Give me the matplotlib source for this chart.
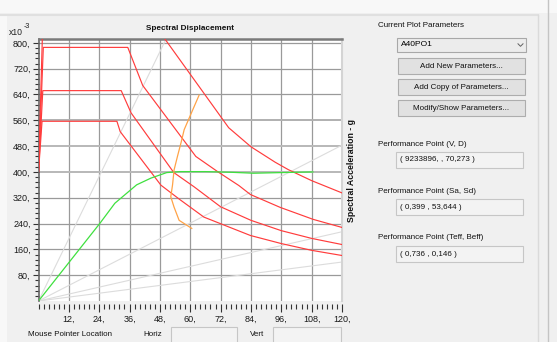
import numpy as np
import matplotlib
matplotlib.use("Agg")
import matplotlib.pyplot as plt
from matplotlib.patches import Rectangle

plt.rcParams['font.family'] = ['Liberation Sans', 'DejaVu Sans']

# ---------------- data ----------------
x_ticks = [12, 24, 36, 48, 60, 72, 84, 96, 108, 120]
y_ticks = [80, 160, 240, 320, 400, 480, 560, 640, 720, 800]

spec1_sd = [0, 1.9, 35.3, 41.2, 62.2, 71.0, 79.2, 83.8, 95.6, 108.6, 120.0]
spec1_sa = [400, 786, 786, 668, 448, 400, 358, 330, 290, 253, 228]
spec2_sd = [0, 1.7, 32.7, 36.6, 53.5, 61.5, 72.0, 84.0, 96.0, 108.0, 120.0]
spec2_sa = [400, 652, 652, 583, 398, 354, 292, 250, 218, 194, 175]
spec3_sd = [0, 1.4, 31.0, 32.3, 48.4, 55.6, 65.4, 83.8, 96.0, 108.0, 120.0]
spec3_sa = [400, 557, 557, 525, 359, 316, 260, 203, 178, 157, 141]
spec4_sd = [0, 2.2, 42.0, 46.5, 75.2, 84.0, 93.6, 98.8, 108.0, 120.0]
spec4_sa = [400, 1000, 1000, 850, 537, 478, 430, 407, 373, 335]

capacity_sd = [0, 24.3, 30.2, 38.8, 44.5, 50.7, 56.0, 66.0, 76.0, 85.0, 96.0, 108.5]
capacity_sa = [0, 241, 303, 360, 381, 398, 401, 401, 399, 396, 398, 400]

locus_sd = [60.6, 55.6, 53.6, 52.3, 53.0, 53.6, 55.0, 56.3, 57.6, 59.3, 63.5]
locus_sa = [225, 250, 291, 323, 360, 406, 450, 489, 531, 562, 638]

period_lines_T = [0.5, 1.0, 1.5, 2.0]   # constant-period radial lines (s)
G_MM = 9810.0                          # mm/s^2

combo_value = "A40PO1"
buttons = ["Add New Parameters...", "Add Copy of Parameters...", "Modify/Show Parameters..."]
pp_labels = ["Performance Point (V, D)", "Performance Point (Sa, Sd)", "Performance Point (Teff, Beff)"]
pp_values = ["( 9233896, , 70,273 )", "( 0,399 , 53,644 )", "( 0,736 , 0,146 )"]

# ---------------- figure ----------------
W, H = 557, 342
fig = plt.figure(figsize=(W / 100, H / 100), dpi=100)
fig.patch.set_facecolor('#f0f0f0')

bg = fig.add_axes([0, 0, 1, 1], zorder=0)
bg.set_xlim(0, W)
bg.set_ylim(H, 0)
bg.axis('off')

# window decorations
bg.add_patch(Rectangle((0, 0), W, 13, fc='#f8f8f8', ec='none'))
bg.plot([0, 538], [15, 15], color='#e0e0e0', lw=1.5)
bg.add_patch(Rectangle((0, 15), 7, H, fc='#f8f8f8', ec='none'))
bg.plot([538, 538], [15, H], color='#dadada', lw=1.0)
bg.plot([548, 548], [0, H], color='#c4c4c4', lw=1.0)

fs = 5.8
bg.text(9, 32.5, "x10", fontsize=6.2, va='center', ha='left', color='#222')
bg.text(23.5, 26.5, "-3", fontsize=5.2, va='center', ha='left', color='#222')
bg.text(190, 29, "Spectral Displacement", fontsize=5.9, fontweight='bold',
        ha='center', va='center', color='#111')
bg.text(352, 170, "Spectral Acceleration - g", fontsize=6.3, fontweight='bold',
        rotation=90, ha='center', va='center', color='#111')

# right panel
bg.text(378, 25.5, "Current Plot Parameters", fontsize=fs, va='center', ha='left', color='#111')
bg.add_patch(Rectangle((397, 38), 129, 14, fc='#ececec', ec='#a8a8a8', lw=0.8))
bg.text(401, 45, combo_value, fontsize=6.0, va='center', ha='left', color='#000')
bg.plot([518, 520.5, 523], [43.8, 46.3, 43.8], color='#606060', lw=0.7)
btn_y = [57.5, 78.5, 99.5]
for yb, txt in zip(btn_y, buttons):
    bg.add_patch(Rectangle((397.5, yb), 127, 16.8, fc='#e1e1e1', ec='#adadad', lw=0.8))
    bg.text(461, yb + 8.6, txt, fontsize=fs, ha='center', va='center', color='#111')

lab_y = [145, 191.5, 237.5]
box_y = [151.7, 199.3, 246]
for yl, yb, lab, val in zip(lab_y, box_y, pp_labels, pp_values):
    bg.text(378, yl, lab, fontsize=fs, ha='left', va='center', color='#111')
    bg.add_patch(Rectangle((396, yb), 127, 16, fc='#f3f3f3', ec='#c6c6c6', lw=0.8))
    bg.text(400, yb + 8, val, fontsize=fs, ha='left', va='center', color='#111')

# bottom status area
bg.text(28, 335, "Mouse Pointer Location", fontsize=fs, ha='left', va='center', color='#111')
bg.text(143, 335, "Horiz", fontsize=fs, ha='left', va='center', color='#111')
bg.add_patch(Rectangle((170.7, 327.3), 66.6, 20, fc='#f3f3f3', ec='#c6c6c6', lw=0.8))
bg.text(250, 335, "Vert", fontsize=fs, ha='left', va='center', color='#111')
bg.add_patch(Rectangle((273.3, 327.3), 68, 20, fc='#f3f3f3', ec='#c6c6c6', lw=0.8))

# ---------------- main axes ----------------
L, R, T, B = 38.5, 342.0, 39.0, 301.0
ax = fig.add_axes([L / W, 1 - B / H, (R - L) / W, (B - T) / H], zorder=2)
ax.set_facecolor('white')
ax.set_xlim(0, 120)
ax.set_ylim(0, 812)

ax.set_xticks(x_ticks)
ax.set_xticklabels([f"{v}," for v in x_ticks], ha='right')
ax.set_xticks(np.arange(0, 121, 2), minor=True)
ax.set_yticks(y_ticks)
ax.set_yticklabels([f"{v}," for v in y_ticks])
ax.set_yticks(np.arange(16, 812, 16), minor=True)

ax.tick_params(axis='x', which='major', length=6, width=0.8, color='#333',
               pad=2, labelsize=6.5, labelcolor='#1a1a1a')
ax.tick_params(axis='x', which='minor', length=3.5, width=0.8, color='#333')
ax.tick_params(axis='y', which='major', length=4.5, width=0.8, color='#333',
               pad=1.2, labelsize=6.5, labelcolor='#1a1a1a')
ax.tick_params(axis='y', which='minor', length=3, width=0.8, color='#333')

ax.grid(True, which='major', color='#9a9a9a', lw=0.9)
ax.set_axisbelow(True)
light_x = {12: '#b4b4b4', 24: '#a8a8a8', 60: '#cfcfcf', 84: '#cfcfcf', 96: '#cfcfcf'}
for gl, v in zip(ax.get_xgridlines(), x_ticks):
    if v in light_x:
        gl.set_color(light_x[v])
        gl.set_linewidth(1.5)
light_y = {400: '#b8b8b8', 480: '#b8b8b8', 560: '#b0b0b0'}
for gl, v in zip(ax.get_ygridlines(), y_ticks):
    if v in light_y:
        gl.set_color(light_y[v])
        gl.set_linewidth(1.4)

ax.spines['left'].set_color('#666666')
ax.spines['left'].set_linewidth(1.2)
ax.spines['top'].set_color('#7a7a7a')
ax.spines['top'].set_linewidth(1.8)
ax.spines['right'].set_color('#d4d4d4')
ax.spines['right'].set_linewidth(1.5)
ax.spines['bottom'].set_position(('outward', 2))
ax.spines['bottom'].set_color('none')

# constant period lines
sa_range = np.array([0.0, 812.0])
for Tp in period_lines_T:
    sd_line = G_MM / (4 * np.pi ** 2) * (sa_range / 1000.0) * Tp ** 2
    ax.plot(sd_line, sa_range, color='#dcdcdc', lw=0.8, zorder=1)

red = '#ff3c3c'
for sd, sa in [(spec4_sd, spec4_sa), (spec1_sd, spec1_sa),
               (spec2_sd, spec2_sa), (spec3_sd, spec3_sa)]:
    ax.plot(sd, sa, color=red, lw=0.85, zorder=3)

ax.plot(capacity_sd, capacity_sa, color='#3fe03f', lw=0.9, zorder=4)
ax.plot(locus_sd, locus_sa, color='#ffa347', lw=0.9, zorder=4)

fig.savefig('out.png', dpi=100, facecolor=fig.get_facecolor())
